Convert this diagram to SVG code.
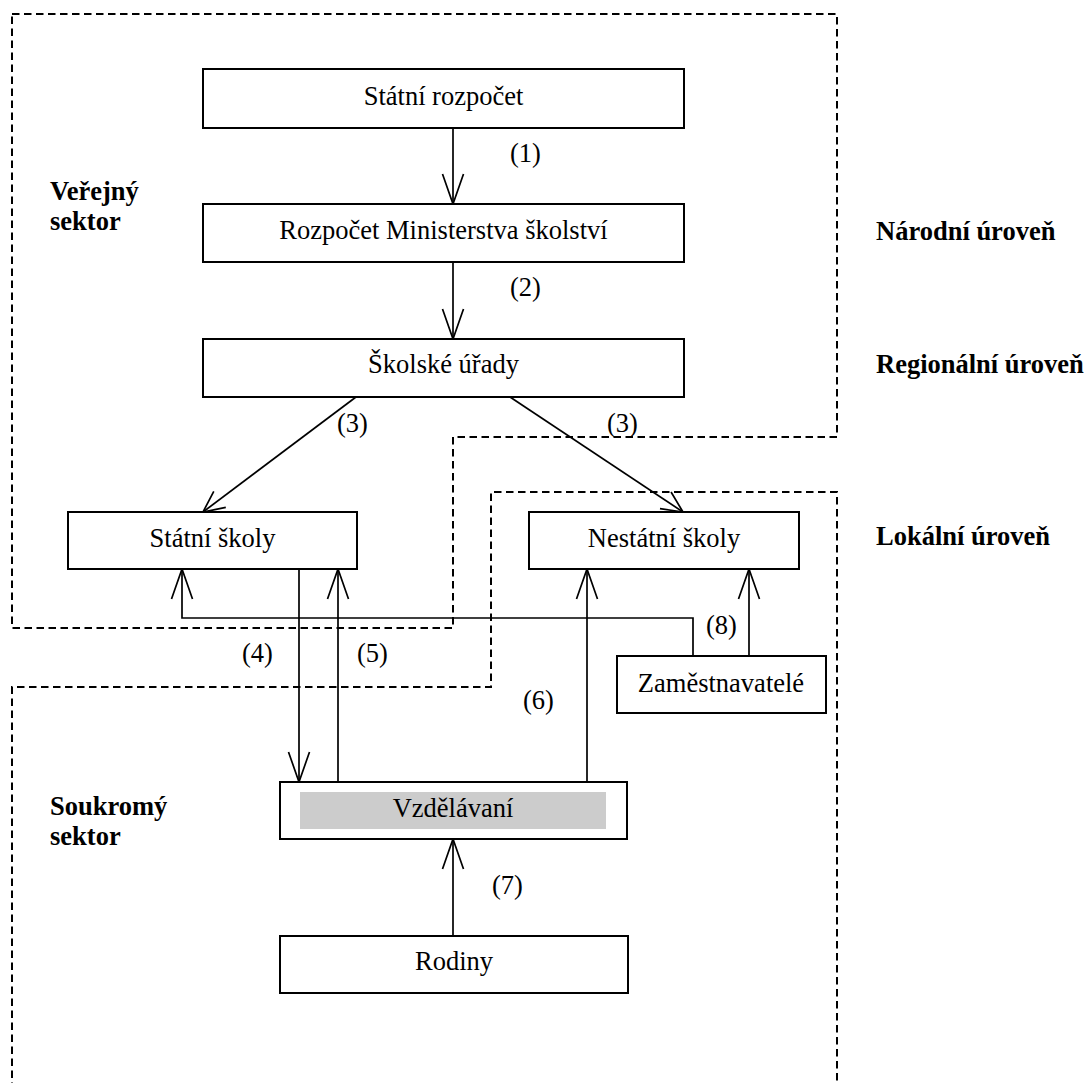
<svg xmlns="http://www.w3.org/2000/svg" width="1087" height="1083" viewBox="0 0 1087 1083">
<style>
.box{fill:#fff;stroke:#000;stroke-width:2}
.t{font-family:"Liberation Serif","Times New Roman",serif;font-size:26.5px;fill:#000}
.c{text-anchor:middle}
.b{font-weight:bold}
.ln{fill:none;stroke:#000;stroke-width:1.7}
.dash{fill:none;stroke:#000;stroke-width:2;stroke-dasharray:7.5 4.5}
</style>
<defs>
<marker id="arr" markerUnits="userSpaceOnUse" viewBox="-32 -12 34 24" markerWidth="34" markerHeight="24" refX="0" refY="0" orient="auto">
<path d="M-30,-10.5 L0,0 L-30,10.5" fill="none" stroke="#000" stroke-width="1.7"/>
</marker>
<marker id="arrs" markerUnits="userSpaceOnUse" viewBox="-24 -12 26 24" markerWidth="26" markerHeight="24" refX="0" refY="0" orient="auto">
<path d="M-21,-10 L0,0 L-21,10" fill="none" stroke="#000" stroke-width="1.7"/>
</marker>
</defs>
<rect width="1087" height="1083" fill="#fff"/>

<g id="regions">
<path class="dash" d="M12,14 H837 V437 H453 V628 H12 Z"/>
<path class="dash" d="M12,1090 V687 H491 V492 H837 V1090"/>
</g>

<g id="labels">
<text class="t b" x="50" y="200">Veřejný</text>
<text class="t b" x="50" y="230">sektor</text>
<text class="t b" x="50" y="815">Soukromý</text>
<text class="t b" x="50" y="845">sektor</text>
<text class="t b" x="876" y="240">Národní úroveň</text>
<text class="t b" x="876" y="373">Regionální úroveň</text>
<text class="t b" x="876" y="545">Lokální úroveň</text>
</g>

<g id="connectors">
<line class="ln" x1="453" y1="128" x2="453" y2="204" marker-end="url(#arr)"/>
<line class="ln" x1="453" y1="262" x2="453" y2="339" marker-end="url(#arr)"/>
<line class="ln" x1="356" y1="397" x2="203" y2="512" marker-end="url(#arrs)"/>
<line class="ln" x1="510" y1="397" x2="683" y2="512" marker-end="url(#arrs)"/>
<line class="ln" x1="299" y1="569" x2="299" y2="782" marker-end="url(#arr)"/>
<line class="ln" x1="338" y1="782" x2="338" y2="569" marker-end="url(#arr)"/>
<line class="ln" x1="587" y1="782" x2="587" y2="569" marker-end="url(#arr)"/>
<line class="ln" x1="453" y1="936" x2="453" y2="839" marker-end="url(#arr)"/>
<line class="ln" x1="749" y1="656" x2="749" y2="569" marker-end="url(#arr)"/>
<path class="ln" d="M693,656 V618 H182 V569" marker-end="url(#arr)"/>
<text class="t" x="510" y="162">(1)</text>
<text class="t" x="510" y="296">(2)</text>
<text class="t" x="337" y="432">(3)</text>
<text class="t" x="607" y="432">(3)</text>
<text class="t" x="242" y="662">(4)</text>
<text class="t" x="357" y="662">(5)</text>
<text class="t" x="523" y="709">(6)</text>
<text class="t" x="492" y="894">(7)</text>
<text class="t" x="706" y="634">(8)</text>
</g>

<g id="statni-rozpocet">
<rect class="box" x="203" y="69" width="481" height="59"/>
<text class="t c" x="443.5" y="105">Státní rozpočet</text>
</g>
<g id="rozpocet-ministerstva">
<rect class="box" x="203" y="204" width="481" height="58"/>
<text class="t c" x="443.5" y="239">Rozpočet Ministerstva školství</text>
</g>
<g id="skolske-urady">
<rect class="box" x="203" y="339" width="481" height="58"/>
<text class="t c" x="443.5" y="373">Školské úřady</text>
</g>
<g id="statni-skoly">
<rect class="box" x="68" y="512" width="289" height="57"/>
<text class="t c" x="212.5" y="547">Státní školy</text>
</g>
<g id="nestatni-skoly">
<rect class="box" x="529" y="512" width="270" height="57"/>
<text class="t c" x="664" y="547">Nestátní školy</text>
</g>
<g id="zamestnavatele">
<rect class="box" x="617" y="656" width="209" height="57"/>
<text class="t c" x="721" y="692">Zaměstnavatelé</text>
</g>
<g id="vzdelavani">
<rect class="box" x="280" y="782" width="347" height="57"/>
<rect x="300" y="792" width="306" height="37" fill="#cccccc"/>
<text class="t c" x="453" y="817">Vzdělávaní</text>
</g>
<g id="rodiny">
<rect class="box" x="280" y="936" width="348" height="57"/>
<text class="t c" x="454" y="970">Rodiny</text>
</g>
</svg>
